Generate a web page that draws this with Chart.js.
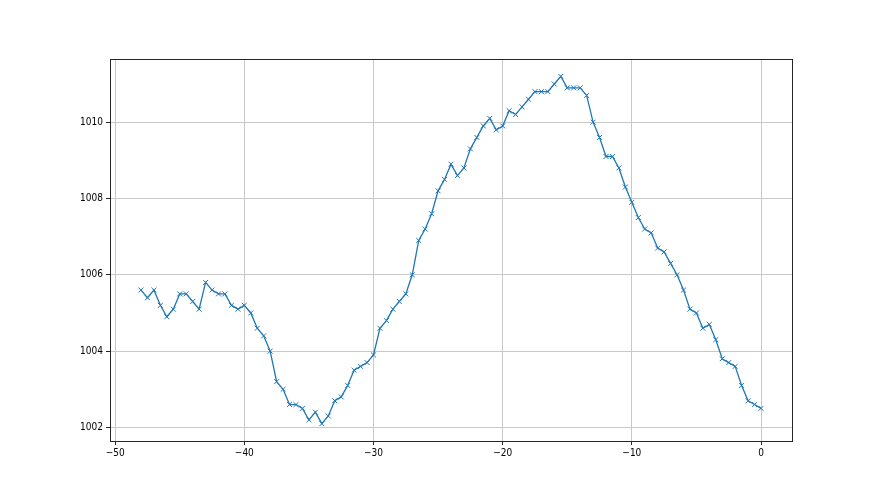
<!DOCTYPE html>
<html>
<head>
<meta charset="utf-8">
<script src="https://cdn.jsdelivr.net/npm/chart.js@4.4.1/dist/chart.umd.min.js"></script>
<style>
  html, body { margin: 0; padding: 0; background: #fff; }
  #wrap { width: 880px; height: 495px; }
</style>
</head>
<body>
<div id="wrap"><canvas id="myChart" width="880" height="495"></canvas></div>
<script>
// data, x step is 0.5
var xStart = -48;
var xStep = 0.5;
var pressure = [
  1005.6, 1005.4, 1005.6, 1005.2, 1004.9, 1005.1, 1005.5, 1005.5, 1005.3, 1005.1,
  1005.8, 1005.6, 1005.5, 1005.5, 1005.2, 1005.1, 1005.2, 1005.0, 1004.6, 1004.4,
  1004.0, 1003.2, 1003.0, 1002.6, 1002.6, 1002.5, 1002.2, 1002.4, 1002.1, 1002.3,
  1002.7, 1002.8, 1003.1, 1003.5, 1003.6, 1003.7, 1003.9, 1004.6, 1004.8, 1005.1,
  1005.3, 1005.5, 1006.0, 1006.9, 1007.2, 1007.6, 1008.2, 1008.5, 1008.9, 1008.6,
  1008.8, 1009.3, 1009.6, 1009.9, 1010.1, 1009.8, 1009.9, 1010.3, 1010.2, 1010.4,
  1010.6, 1010.8, 1010.8, 1010.8, 1011.0, 1011.2, 1010.9, 1010.9, 1010.9, 1010.7,
  1010.0, 1009.6, 1009.1, 1009.1, 1008.8, 1008.3, 1007.9, 1007.5, 1007.2, 1007.1,
  1006.7, 1006.6, 1006.3, 1006.0, 1005.6, 1005.1, 1005.0, 1004.6, 1004.7, 1004.3,
  1003.8, 1003.7, 1003.6, 1003.1, 1002.7, 1002.6, 1002.5
];
var xTicks = [-50, -40, -30, -20, -10, 0];
var yTicks = [1002, 1004, 1006, 1008, 1010];

var points = pressure.map(function (v, i) {
  return { x: xStart + i * xStep, y: v };
});

// box round the plot like matplotlib spines
var frame = {
  id: 'frame',
  afterDraw: function (chart) {
    var a = chart.chartArea, c = chart.ctx;
    c.save();
    c.strokeStyle = '#262626';
    c.lineWidth = 1;
    c.strokeRect(a.left + 0.5, a.top + 0.5, a.right - a.left, a.bottom - a.top);
    c.restore();
  }
};

var label = function (v) { return String(v).replace('-', '\u2212'); };

Chart.defaults.font.family = '"Liberation Sans Narrow", "DejaVu Sans Condensed", "DejaVu Sans"';
Chart.defaults.font.size = 10;
Chart.defaults.color = '#000';

var ctx = document.getElementById('myChart');
var lineChart = new Chart(ctx, {
  type: 'line',
  data: {
    datasets: [{
      data: points,
      borderColor: '#1f77b4',
      backgroundColor: '#1f77b4',
      borderWidth: 1.3,
      pointStyle: 'crossRot',
      pointRadius: 3.5,
      pointBorderWidth: 1,
      pointBorderColor: '#1f77b4',
      tension: 0,
      fill: false
    }]
  },
  options: {
    responsive: false,
    animation: false,
    layout: { padding: { top: 59, right: 88, left: 0, bottom: 0 } },
    plugins: { legend: { display: false }, tooltip: { enabled: false } },
    scales: {
      x: {
        type: 'linear',
        min: -50.4,
        max: 2.4,
        afterBuildTicks: function (s) { s.ticks = xTicks.map(function (v) { return { value: v }; }); },
        afterFit: function (s) { s.height = 54; },
        ticks: { callback: label, maxRotation: 0, padding: 2 },
        grid: { color: '#c8c8c8', tickColor: '#262626', tickLength: 4, lineWidth: 1 },
        border: { display: false }
      },
      y: {
        type: 'linear',
        min: 1001.645,
        max: 1011.655,
        afterBuildTicks: function (s) { s.ticks = yTicks.map(function (v) { return { value: v }; }); },
        afterFit: function (s) { s.width = 110; },
        ticks: { callback: label, padding: 3 },
        grid: { color: '#c8c8c8', tickColor: '#262626', tickLength: 4, lineWidth: 1 },
        border: { display: false }
      }
    }
  },
  plugins: [frame]
});
</script>
</body>
</html>
